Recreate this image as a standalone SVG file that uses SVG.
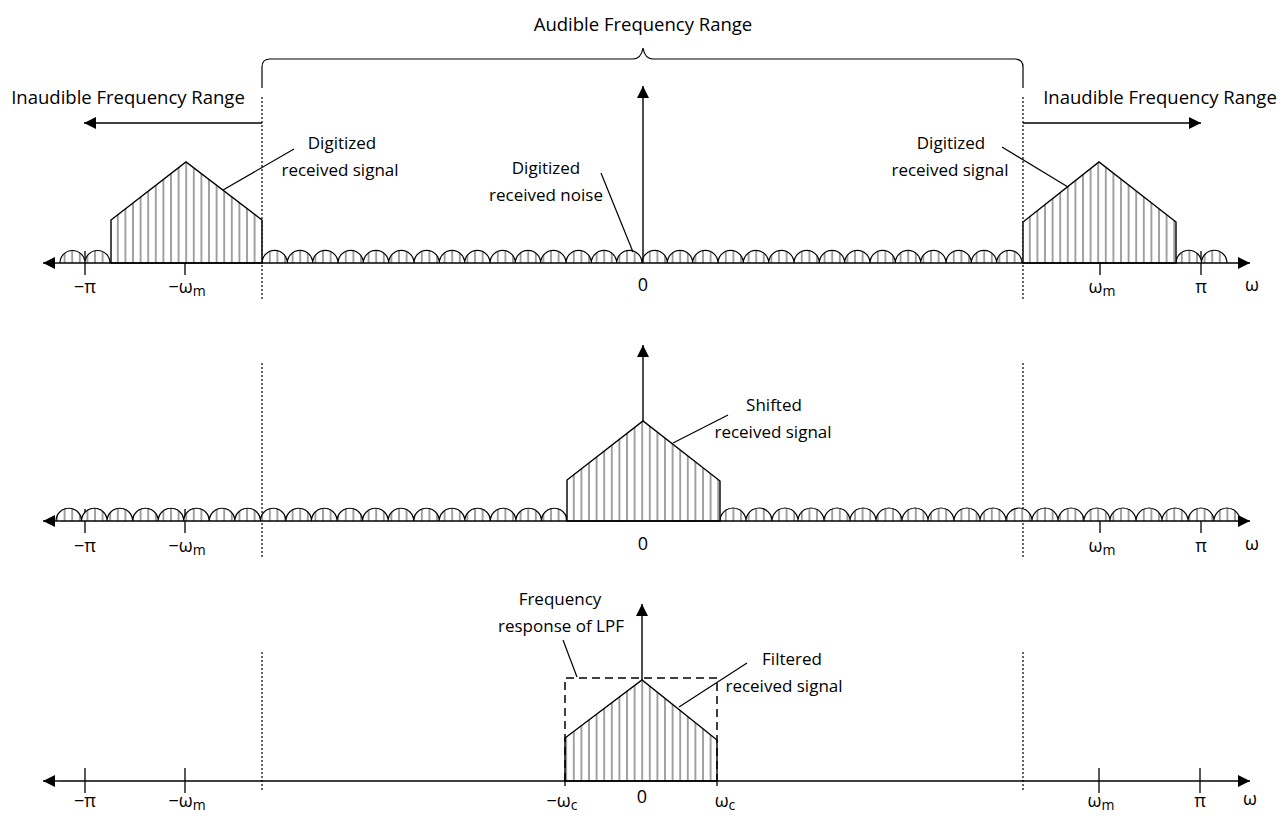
<svg xmlns="http://www.w3.org/2000/svg" width="1288" height="816" viewBox="0 0 1288 816">
<style>
text{font-family:"Open Sans","Noto Sans","Liberation Sans",sans-serif;font-size:17px;fill:#000}
.big{font-size:18.5px;text-anchor:middle}
.lbl{font-size:18px;text-anchor:middle}
.sub{font-size:14px}
.c{text-anchor:middle}
.ax{stroke:#000;stroke-width:1.4;fill:none}
.tick{stroke:#000;stroke-width:1.3}
.dot{stroke:#000;stroke-width:1.2;stroke-dasharray:2,2;fill:none}
.shape{fill:url(#hatch);stroke:#000;stroke-width:1.4}
.bump{fill:url(#hatch);stroke:#000;stroke-width:1.2}
.lead{stroke:#000;stroke-width:1.2;fill:none}
.dash{stroke:#000;stroke-width:1.5;stroke-dasharray:8,5;fill:none}
</style>
<defs>
<pattern id="hatch" patternUnits="userSpaceOnUse" x="0" y="0" width="7.6" height="10">
<rect width="7.6" height="10" fill="#fff"/>
<line x1="3.8" y1="0" x2="3.8" y2="10" stroke="#9a9a9a" stroke-width="1.8"/>
</pattern>
<marker id="ah" markerUnits="userSpaceOnUse" markerWidth="14" markerHeight="12" refX="12" refY="6" orient="auto">
<path d="M0,0 L12,6 L0,12 Z" fill="#000"/>
</marker>
</defs>

<g id="guides">
<path class="dot" d="M262,97 V300 M262,363 V557 M262,652 V790"/>
<path class="dot" d="M1023,97 V300 M1023,363 V557 M1023,652 V790"/>
</g>

<g id="brace">
<path class="lead" d="M262,88 L262,67 Q262,59 270,59 L633,59 Q641,59 643,48 Q645,59 653,59 L1015,59 Q1023,59 1023,67 L1023,88"/>
<text class="big" x="643" y="31">Audible Frequency Range</text>
</g>

<g id="range-left">
<text class="big" x="128" y="104">Inaudible Frequency Range</text>
</g>
<g id="range-right">
<text class="big" x="1160" y="104">Inaudible Frequency Range</text>
</g>

<g id="connectors">
<line class="ax" x1="262" y1="123" x2="84" y2="123" marker-end="url(#ah)"/>
<line class="ax" x1="1023" y1="123" x2="1201" y2="123" marker-end="url(#ah)"/>
</g>

<!-- Row 1 -->
<g id="row1">
<path class="tick" d="M85,251 V275 M185,251 V275 M1100,251 V275 M1201,251 V275"/>
<path class="bump" d="M60,263 a12.5 12.5 0 0 1 25 0 a12.5 12.5 0 0 1 25 0"/>
<path class="bump" d="M262,263 a12.667 12.667 0 0 1 25.333 0 a12.667 12.667 0 0 1 25.333 0 a12.667 12.667 0 0 1 25.333 0 a12.667 12.667 0 0 1 25.333 0 a12.667 12.667 0 0 1 25.333 0 a12.667 12.667 0 0 1 25.333 0 a12.667 12.667 0 0 1 25.333 0 a12.667 12.667 0 0 1 25.333 0 a12.667 12.667 0 0 1 25.333 0 a12.667 12.667 0 0 1 25.333 0 a12.667 12.667 0 0 1 25.333 0 a12.667 12.667 0 0 1 25.333 0 a12.667 12.667 0 0 1 25.333 0 a12.667 12.667 0 0 1 25.333 0 a12.667 12.667 0 0 1 25.333 0 a12.667 12.667 0 0 1 25.333 0 a12.667 12.667 0 0 1 25.333 0 a12.667 12.667 0 0 1 25.333 0 a12.667 12.667 0 0 1 25.333 0 a12.667 12.667 0 0 1 25.333 0 a12.667 12.667 0 0 1 25.333 0 a12.667 12.667 0 0 1 25.333 0 a12.667 12.667 0 0 1 25.333 0 a12.667 12.667 0 0 1 25.333 0 a12.667 12.667 0 0 1 25.333 0 a12.667 12.667 0 0 1 25.333 0 a12.667 12.667 0 0 1 25.333 0 a12.667 12.667 0 0 1 25.333 0 a12.667 12.667 0 0 1 25.333 0 a12.667 12.667 0 0 1 25.333 0"/>
<path class="bump" d="M1176,263 a12.75 12.75 0 0 1 25.5 0 a12.75 12.75 0 0 1 25.5 0"/>
<polygon id="sig1-left" class="shape" points="111,263 111,220 186,162 262,220 262,263"/>
<polygon id="sig1-right" class="shape" points="1023,263 1023,222 1099,162 1176,222 1176,263"/>
<line class="ax" x1="60" y1="263" x2="43" y2="263" marker-end="url(#ah)"/>
<line class="ax" x1="60" y1="263" x2="1250" y2="263" marker-end="url(#ah)"/>
<line class="ax" x1="643" y1="263" x2="643" y2="86" marker-end="url(#ah)"/>
<line class="lead" x1="223" y1="190" x2="294" y2="149"/>
<line class="lead" x1="1068" y1="187" x2="1002" y2="147"/>
<line class="lead" x1="633" y1="252" x2="601" y2="173"/>
<text class="c" x="342" y="149">Digitized</text>
<text class="c" x="340" y="176">received signal</text>
<text class="c" x="951" y="149">Digitized</text>
<text class="c" x="950" y="176">received signal</text>
<text class="c" x="546" y="174">Digitized</text>
<text class="c" x="546" y="201">received noise</text>
<text class="lbl" x="85" y="293">−π</text>
<text class="lbl" x="187" y="293">−ω<tspan class="sub" dy="3">m</tspan></text>
<text class="lbl" x="643" y="291">0</text>
<text class="lbl" x="1102" y="293">ω<tspan class="sub" dy="3">m</tspan></text>
<text class="lbl" x="1201" y="293">π</text>
<text class="lbl" x="1252" y="291">ω</text>
</g>

<!-- Row 2 -->
<g id="row2">
<path class="tick" d="M85,509 V533 M185,509 V533 M1100,509 V533 M1201,509 V533"/>
<path class="bump" d="M56,521 a12.775 12.775 0 0 1 25.55 0 a12.775 12.775 0 0 1 25.55 0 a12.775 12.775 0 0 1 25.55 0 a12.775 12.775 0 0 1 25.55 0 a12.775 12.775 0 0 1 25.55 0 a12.775 12.775 0 0 1 25.55 0 a12.775 12.775 0 0 1 25.55 0 a12.775 12.775 0 0 1 25.55 0 a12.775 12.775 0 0 1 25.55 0 a12.775 12.775 0 0 1 25.55 0 a12.775 12.775 0 0 1 25.55 0 a12.775 12.775 0 0 1 25.55 0 a12.775 12.775 0 0 1 25.55 0 a12.775 12.775 0 0 1 25.55 0 a12.775 12.775 0 0 1 25.55 0 a12.775 12.775 0 0 1 25.55 0 a12.775 12.775 0 0 1 25.55 0 a12.775 12.775 0 0 1 25.55 0 a12.775 12.775 0 0 1 25.55 0 a12.775 12.775 0 0 1 25.55 0"/>
<path class="bump" d="M720,521 a13 13 0 0 1 26 0 a13 13 0 0 1 26 0 a13 13 0 0 1 26 0 a13 13 0 0 1 26 0 a13 13 0 0 1 26 0 a13 13 0 0 1 26 0 a13 13 0 0 1 26 0 a13 13 0 0 1 26 0 a13 13 0 0 1 26 0 a13 13 0 0 1 26 0 a13 13 0 0 1 26 0 a13 13 0 0 1 26 0 a13 13 0 0 1 26 0 a13 13 0 0 1 26 0 a13 13 0 0 1 26 0 a13 13 0 0 1 26 0 a13 13 0 0 1 26 0 a13 13 0 0 1 26 0 a13 13 0 0 1 26 0 a13 13 0 0 1 26 0"/>
<polygon id="sig2" class="shape" points="567,521 567,480 643,421 720,481 720,521"/>
<line class="ax" x1="60" y1="521" x2="43" y2="521" marker-end="url(#ah)"/>
<line class="ax" x1="60" y1="521" x2="1250" y2="521" marker-end="url(#ah)"/>
<line class="ax" x1="643" y1="421" x2="643" y2="345" marker-end="url(#ah)"/>
<line class="lead" x1="673" y1="443" x2="728" y2="415"/>
<text class="c" x="774" y="411">Shifted</text>
<text class="c" x="773" y="438">received signal</text>
<text class="lbl" x="85" y="552">−π</text>
<text class="lbl" x="187" y="552">−ω<tspan class="sub" dy="3">m</tspan></text>
<text class="lbl" x="643" y="550">0</text>
<text class="lbl" x="1102" y="552">ω<tspan class="sub" dy="3">m</tspan></text>
<text class="lbl" x="1201" y="552">π</text>
<text class="lbl" x="1252" y="550">ω</text>
</g>

<!-- Row 3 -->
<g id="row3">
<path class="tick" d="M85,768 V793 M185,768 V793 M1099,768 V793 M1200,768 V793 M565,781 V786 M717,781 V786"/>
<polygon id="sig3" class="shape" points="565,781 565,738 642,680 717,740 717,781"/>
<path id="lpf" class="dash" d="M565,781 V678 H717 V781"/>
<line class="ax" x1="60" y1="781" x2="43" y2="781" marker-end="url(#ah)"/>
<line class="ax" x1="60" y1="781" x2="1250" y2="781" marker-end="url(#ah)"/>
<line class="ax" x1="642" y1="680" x2="642" y2="604" marker-end="url(#ah)"/>
<line class="lead" x1="563" y1="640" x2="577" y2="677"/>
<line class="lead" x1="679" y1="707" x2="747" y2="663"/>
<text class="c" x="560" y="605">Frequency</text>
<text class="c" x="561" y="632">response of LPF</text>
<text class="c" x="792" y="665">Filtered</text>
<text class="c" x="784" y="692">received signal</text>
<text class="lbl" x="85" y="807">−π</text>
<text class="lbl" x="187" y="807">−ω<tspan class="sub" dy="3">m</tspan></text>
<text class="lbl" x="562" y="807">−ω<tspan class="sub" dy="3">c</tspan></text>
<text class="lbl" x="642" y="803">0</text>
<text class="lbl" x="725" y="807">ω<tspan class="sub" dy="3">c</tspan></text>
<text class="lbl" x="1101" y="807">ω<tspan class="sub" dy="3">m</tspan></text>
<text class="lbl" x="1200" y="807">π</text>
<text class="lbl" x="1250" y="805">ω</text>
</g>
</svg>
